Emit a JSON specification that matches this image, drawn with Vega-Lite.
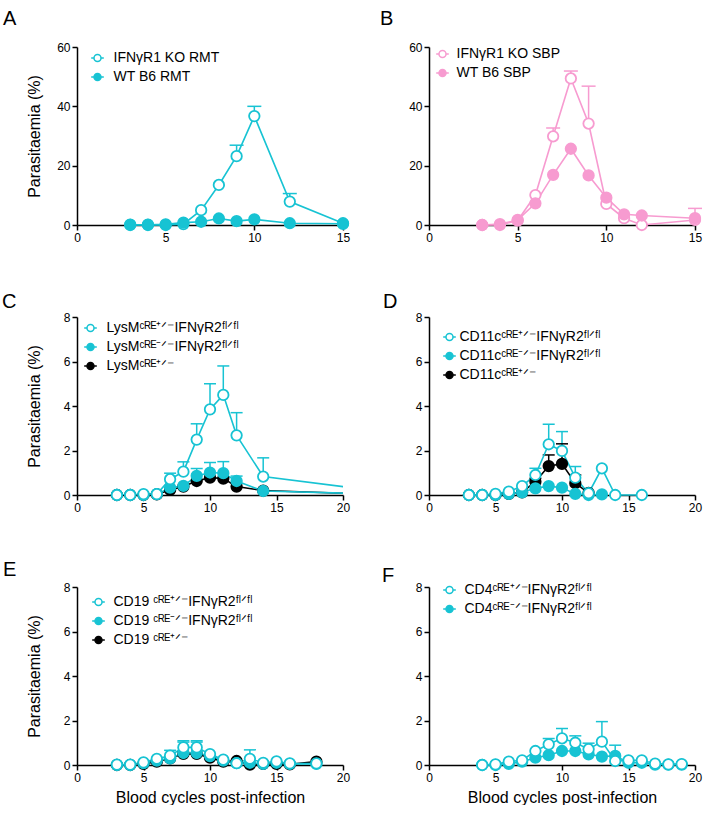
{
 "$schema": "https://vega.github.io/schema/vega-lite/v6.json",
 "padding": {"left": 2, "top": 9, "right": 0, "bottom": 0},
 "background": "white",
 "config": {
  "font": "Liberation Sans",
  "view": {"stroke": null},
  "axis": {"grid": false, "domainColor": "#000", "domainWidth": 1.5, "tickColor": "#000", "tickWidth": 1.5, "tickSize": 5, "labelColor": "#000", "labelFontSize": 12, "labelFont": "Liberation Sans", "labelPadding": 2, "titleFont": "Liberation Sans", "titleFontSize": 16, "titleFontWeight": "normal", "titleColor": "#000", "labelFlush": false, "labelOverlap": false},
  "legend": {"orient": "none", "title": null, "labelFont": "Liberation Sans", "labelFontSize": 14, "labelColor": "#000", "symbolSize": 49, "symbolStrokeWidth": 1.5, "padding": 0, "rowPadding": 5, "labelOffset": 12, "symbolOpacity": 1, "symbolType": "M-1.8,0H-1M1,0H1.8M1,0A1,1,0,1,1,-1,0A1,1,0,1,1,1,0"},
  "title": {"font": "Liberation Sans", "fontSize": 20, "fontWeight": "normal", "anchor": "start", "frame": "group", "color": "#000", "baseline": "alphabetic"}
 },
 "columns": 2,
 "spacing": {"row": 92, "column": 86},
 "bounds": "flush",
 "resolve": {"scale": {"color": "independent", "fill": "independent"}, "legend": {"color": "independent", "fill": "independent"}},
 "concat": [
    {
     "width": 266, "height": 178,
     "title": {"text": "A", "dx": -74, "offset": 12},
     "data": {"values": [
      {"c": 3, "p": 0, "g": "IFNγR1 KO RMT"}, {"c": 4, "p": 0, "g": "IFNγR1 KO RMT"}, {"c": 5, "p": 0, "g": "IFNγR1 KO RMT"}, {"c": 6, "p": 0.3, "g": "IFNγR1 KO RMT"}, {"c": 7, "p": 5.0, "g": "IFNγR1 KO RMT"}, {"c": 8, "p": 13.5, "g": "IFNγR1 KO RMT"}, {"c": 9, "p": 23.2, "hi": 26.9, "g": "IFNγR1 KO RMT"}, {"c": 10, "p": 36.7, "hi": 40.0, "g": "IFNγR1 KO RMT"}, {"c": 12, "p": 7.9, "hi": 10.6, "g": "IFNγR1 KO RMT"}, {"c": 15, "p": 0.6, "g": "IFNγR1 KO RMT"},
      {"c": 3, "p": 0.1, "g": "WT B6 RMT"}, {"c": 4, "p": 0.1, "g": "WT B6 RMT"}, {"c": 5, "p": 0.2, "g": "WT B6 RMT"}, {"c": 6, "p": 0.8, "g": "WT B6 RMT"}, {"c": 7, "p": 1.1, "g": "WT B6 RMT"}, {"c": 8, "p": 2.2, "g": "WT B6 RMT"}, {"c": 9, "p": 1.3, "g": "WT B6 RMT"}, {"c": 10, "p": 1.9, "g": "WT B6 RMT"}, {"c": 12, "p": 0.6, "g": "WT B6 RMT"}, {"c": 15, "p": 0.4, "g": "WT B6 RMT"}
     ]},
     "encoding": {
      "x": {"field": "c", "type": "quantitative", "scale": {"domain": [0, 15], "nice": false}, "axis": {"values": [0, 5, 10, 15], "title": null}},
      "y": {"field": "p", "type": "quantitative", "scale": {"domain": [0, 60], "nice": false}, "axis": {"values": [0, 20, 40, 60], "title": "Parasitaemia (%)", "titlePadding": 14}},
      "color": {"field": "g", "type": "nominal", "scale": {"domain": ["IFNγR1 KO RMT", "WT B6 RMT"], "range": ["#17C3D3", "#17C3D3"]}, "legend": {"legendX": 13.5, "legendY": 4, "labelOffset": 9}}
     },
     "layer": [
      {"transform": [{"filter": "isValid(datum.hi)"}], "mark": {"type": "rule", "strokeWidth": 1.5}, "encoding": {"y2": {"field": "hi"}}},
      {"transform": [{"filter": "isValid(datum.hi)"}], "mark": {"type": "rule", "strokeWidth": 1.5, "xOffset": -7, "x2Offset": 7}, "encoding": {"y": {"field": "hi", "type": "quantitative"}, "x2": {"field": "c"}}},
      {"mark": {"type": "line", "strokeWidth": 1.6}},
      {"mark": {"type": "point", "shape": "circle", "size": 110, "strokeWidth": 1.8, "opacity": 1, "filled": false},
       "encoding": {"fill": {"field": "g", "type": "nominal", "scale": {"domain": ["IFNγR1 KO RMT", "WT B6 RMT"], "range": ["#ffffff", "#17C3D3"]}, "legend": {"legendX": 13.5, "legendY": 4, "labelOffset": 9}}}}
     ]
    },
    {
     "width": 266, "height": 178,
     "title": {"text": "B", "dx": -49, "offset": 12},
     "data": {"values": [
      {"c": 3, "p": 0, "g": "IFNγR1 KO SBP"}, {"c": 4, "p": 0, "g": "IFNγR1 KO SBP"}, {"c": 5, "p": 1.5, "g": "IFNγR1 KO SBP"}, {"c": 6, "p": 10.1, "g": "IFNγR1 KO SBP"}, {"c": 7, "p": 29.9, "hi": 32.7, "g": "IFNγR1 KO SBP"}, {"c": 8, "p": 49.4, "hi": 51.9, "g": "IFNγR1 KO SBP"}, {"c": 9, "p": 34.2, "hi": 46.8, "g": "IFNγR1 KO SBP"}, {"c": 10, "p": 7.1, "g": "IFNγR1 KO SBP"}, {"c": 11, "p": 2.3, "g": "IFNγR1 KO SBP"}, {"c": 12, "p": 0, "g": "IFNγR1 KO SBP"}, {"c": 15, "p": 1.7, "hi": 5.6, "g": "IFNγR1 KO SBP"},
      {"c": 3, "p": 0, "g": "WT B6 SBP"}, {"c": 4, "p": 0.3, "g": "WT B6 SBP"}, {"c": 5, "p": 1.7, "g": "WT B6 SBP"}, {"c": 6, "p": 7.3, "g": "WT B6 SBP"}, {"c": 7, "p": 16.9, "g": "WT B6 SBP"}, {"c": 8, "p": 25.7, "g": "WT B6 SBP"}, {"c": 9, "p": 16.7, "g": "WT B6 SBP"}, {"c": 10, "p": 9.2, "g": "WT B6 SBP"}, {"c": 11, "p": 3.6, "g": "WT B6 SBP"}, {"c": 12, "p": 3.2, "g": "WT B6 SBP"}, {"c": 15, "p": 2.3, "g": "WT B6 SBP"}
     ]},
     "encoding": {
      "x": {"field": "c", "type": "quantitative", "scale": {"domain": [0, 15], "nice": false}, "axis": {"values": [0, 5, 10, 15], "title": null}},
      "y": {"field": "p", "type": "quantitative", "scale": {"domain": [0, 60], "nice": false}, "axis": {"values": [0, 20, 40, 60], "title": null}},
      "color": {"field": "g", "type": "nominal", "scale": {"domain": ["IFNγR1 KO SBP", "WT B6 SBP"], "range": ["#F79BD0", "#F79BD0"]}, "legend": {"legendX": 6.5, "legendY": 0, "labelOffset": 7}}
     },
     "layer": [
      {"transform": [{"filter": "isValid(datum.hi)"}], "mark": {"type": "rule", "strokeWidth": 1.5}, "encoding": {"y2": {"field": "hi"}}},
      {"transform": [{"filter": "isValid(datum.hi)"}], "mark": {"type": "rule", "strokeWidth": 1.5, "xOffset": -7, "x2Offset": 7}, "encoding": {"y": {"field": "hi", "type": "quantitative"}, "x2": {"field": "c"}}},
      {"mark": {"type": "line", "strokeWidth": 1.6}},
      {"mark": {"type": "point", "shape": "circle", "size": 110, "strokeWidth": 1.8, "opacity": 1, "filled": false},
       "encoding": {"fill": {"field": "g", "type": "nominal", "scale": {"domain": ["IFNγR1 KO SBP", "WT B6 SBP"], "range": ["#ffffff", "#F79BD0"]}, "legend": {"legendX": 6.5, "legendY": 0, "labelOffset": 7}}}}
     ]
    },
      {
       "width": 266, "height": 178,
       "title": {"text": "C", "dx": -75, "offset": -1},
       "data": {"values": [
        {"c": 3, "p": 0, "g": "LysMᶜᴿᴱ⁺ᐟ⁻"}, {"c": 4, "p": 0, "g": "LysMᶜᴿᴱ⁺ᐟ⁻"}, {"c": 5, "p": 0, "g": "LysMᶜᴿᴱ⁺ᐟ⁻"}, {"c": 6, "p": 0.03, "g": "LysMᶜᴿᴱ⁺ᐟ⁻"}, {"c": 7, "p": 0.23, "g": "LysMᶜᴿᴱ⁺ᐟ⁻"}, {"c": 8, "p": 0.38, "g": "LysMᶜᴿᴱ⁺ᐟ⁻"}, {"c": 9, "p": 0.63, "g": "LysMᶜᴿᴱ⁺ᐟ⁻"}, {"c": 10, "p": 0.78, "g": "LysMᶜᴿᴱ⁺ᐟ⁻"}, {"c": 11, "p": 0.74, "g": "LysMᶜᴿᴱ⁺ᐟ⁻"}, {"c": 12, "p": 0.38, "g": "LysMᶜᴿᴱ⁺ᐟ⁻"}, {"c": 14, "p": 0.2, "g": "LysMᶜᴿᴱ⁺ᐟ⁻"}, {"c": 21, "p": 0.06, "g": "LysMᶜᴿᴱ⁺ᐟ⁻"},
        {"c": 3, "p": 0, "g": "LysMᶜᴿᴱ⁻ᐟ⁻IFNγR2ᶠˡᐟᶠˡ"}, {"c": 4, "p": 0, "g": "LysMᶜᴿᴱ⁻ᐟ⁻IFNγR2ᶠˡᐟᶠˡ"}, {"c": 5, "p": 0, "g": "LysMᶜᴿᴱ⁻ᐟ⁻IFNγR2ᶠˡᐟᶠˡ"}, {"c": 6, "p": 0.04, "g": "LysMᶜᴿᴱ⁻ᐟ⁻IFNγR2ᶠˡᐟᶠˡ"}, {"c": 7, "p": 0.33, "g": "LysMᶜᴿᴱ⁻ᐟ⁻IFNγR2ᶠˡᐟᶠˡ"}, {"c": 8, "p": 0.41, "g": "LysMᶜᴿᴱ⁻ᐟ⁻IFNγR2ᶠˡᐟᶠˡ"}, {"c": 9, "p": 0.86, "hi": 1.19, "g": "LysMᶜᴿᴱ⁻ᐟ⁻IFNγR2ᶠˡᐟᶠˡ"}, {"c": 10, "p": 1.01, "hi": 1.46, "g": "LysMᶜᴿᴱ⁻ᐟ⁻IFNγR2ᶠˡᐟᶠˡ"}, {"c": 11, "p": 0.98, "hi": 1.5, "g": "LysMᶜᴿᴱ⁻ᐟ⁻IFNγR2ᶠˡᐟᶠˡ"}, {"c": 12, "p": 0.63, "hi": 0.85, "g": "LysMᶜᴿᴱ⁻ᐟ⁻IFNγR2ᶠˡᐟᶠˡ"}, {"c": 14, "p": 0.18, "g": "LysMᶜᴿᴱ⁻ᐟ⁻IFNγR2ᶠˡᐟᶠˡ"}, {"c": 21, "p": 0.07, "g": "LysMᶜᴿᴱ⁻ᐟ⁻IFNγR2ᶠˡᐟᶠˡ"},
        {"c": 3, "p": 0, "g": "LysMᶜᴿᴱ⁺ᐟ⁻IFNγR2ᶠˡᐟᶠˡ"}, {"c": 4, "p": 0, "g": "LysMᶜᴿᴱ⁺ᐟ⁻IFNγR2ᶠˡᐟᶠˡ"}, {"c": 5, "p": 0.04, "g": "LysMᶜᴿᴱ⁺ᐟ⁻IFNγR2ᶠˡᐟᶠˡ"}, {"c": 6, "p": 0.04, "g": "LysMᶜᴿᴱ⁺ᐟ⁻IFNγR2ᶠˡᐟᶠˡ"}, {"c": 7, "p": 0.71, "hi": 0.98, "g": "LysMᶜᴿᴱ⁺ᐟ⁻IFNγR2ᶠˡᐟᶠˡ"}, {"c": 8, "p": 1.05, "hi": 1.49, "g": "LysMᶜᴿᴱ⁺ᐟ⁻IFNγR2ᶠˡᐟᶠˡ"}, {"c": 9, "p": 2.49, "hi": 3.2, "g": "LysMᶜᴿᴱ⁺ᐟ⁻IFNγR2ᶠˡᐟᶠˡ"}, {"c": 10, "p": 3.85, "hi": 5.0, "g": "LysMᶜᴿᴱ⁺ᐟ⁻IFNγR2ᶠˡᐟᶠˡ"}, {"c": 11, "p": 4.5, "hi": 5.8, "g": "LysMᶜᴿᴱ⁺ᐟ⁻IFNγR2ᶠˡᐟᶠˡ"}, {"c": 12, "p": 2.68, "hi": 3.7, "g": "LysMᶜᴿᴱ⁺ᐟ⁻IFNγR2ᶠˡᐟᶠˡ"}, {"c": 14, "p": 0.83, "hi": 1.67, "g": "LysMᶜᴿᴱ⁺ᐟ⁻IFNγR2ᶠˡᐟᶠˡ"}, {"c": 21, "p": 0.3, "g": "LysMᶜᴿᴱ⁺ᐟ⁻IFNγR2ᶠˡᐟᶠˡ"}
       ]},
       "encoding": {
        "x": {"field": "c", "type": "quantitative", "scale": {"domain": [0, 20], "nice": false}, "axis": {"values": [0, 5, 10, 15, 20], "title": null}},
        "y": {"field": "p", "type": "quantitative", "scale": {"domain": [0, 8], "nice": false}, "axis": {"values": [0, 2, 4, 6, 8], "title": "Parasitaemia (%)", "titlePadding": 21}},
        "color": {"field": "g", "type": "nominal", "scale": {"domain": ["LysMᶜᴿᴱ⁺ᐟ⁻IFNγR2ᶠˡᐟᶠˡ", "LysMᶜᴿᴱ⁻ᐟ⁻IFNγR2ᶠˡᐟᶠˡ", "LysMᶜᴿᴱ⁺ᐟ⁻"], "range": ["#17C3D3", "#17C3D3", "#000000"]}, "legend": {"legendX": 6.5, "legendY": 4, "labelOffset": 9}}
       },
       "layer": [
        {"transform": [{"filter": "isValid(datum.hi)"}], "mark": {"type": "rule", "strokeWidth": 1.5}, "encoding": {"y2": {"field": "hi"}}},
        {"transform": [{"filter": "isValid(datum.hi)"}], "mark": {"type": "rule", "strokeWidth": 1.5, "xOffset": -6, "x2Offset": 6}, "encoding": {"y": {"field": "hi", "type": "quantitative"}, "x2": {"field": "c"}}},
        {"mark": {"type": "line", "strokeWidth": 1.6, "clip": true}},
        {"transform": [{"filter": "datum.c <= 20"}], "mark": {"type": "point", "shape": "circle", "size": 110, "strokeWidth": 1.8, "opacity": 1, "filled": false},
         "encoding": {"fill": {"field": "g", "type": "nominal", "scale": {"domain": ["LysMᶜᴿᴱ⁺ᐟ⁻IFNγR2ᶠˡᐟᶠˡ", "LysMᶜᴿᴱ⁻ᐟ⁻IFNγR2ᶠˡᐟᶠˡ", "LysMᶜᴿᴱ⁺ᐟ⁻"], "range": ["#ffffff", "#17C3D3", "#000000"]}, "legend": {"legendX": 6.5, "legendY": 4, "labelOffset": 9}}}}
       ]
      },
      {
       "width": 266, "height": 178,
       "title": {"text": "D", "dx": -46, "offset": -1},
       "data": {"values": [
        {"c": 3, "p": 0, "g": "CD11cᶜᴿᴱ⁺ᐟ⁻"}, {"c": 4, "p": 0, "g": "CD11cᶜᴿᴱ⁺ᐟ⁻"}, {"c": 5, "p": 0, "g": "CD11cᶜᴿᴱ⁺ᐟ⁻"}, {"c": 6, "p": 0.05, "g": "CD11cᶜᴿᴱ⁺ᐟ⁻"}, {"c": 7, "p": 0.12, "g": "CD11cᶜᴿᴱ⁺ᐟ⁻"}, {"c": 8, "p": 0.6, "hi": 0.75, "g": "CD11cᶜᴿᴱ⁺ᐟ⁻"}, {"c": 9, "p": 1.3, "hi": 1.8, "g": "CD11cᶜᴿᴱ⁺ᐟ⁻"}, {"c": 10, "p": 1.4, "hi": 2.3, "g": "CD11cᶜᴿᴱ⁺ᐟ⁻"}, {"c": 11, "p": 0.53, "hi": 0.9, "g": "CD11cᶜᴿᴱ⁺ᐟ⁻"}, {"c": 12, "p": 0.1, "g": "CD11cᶜᴿᴱ⁺ᐟ⁻"},
        {"c": 3, "p": 0, "g": "CD11cᶜᴿᴱ⁻ᐟ⁻IFNγR2ᶠˡᐟᶠˡ"}, {"c": 4, "p": 0, "g": "CD11cᶜᴿᴱ⁻ᐟ⁻IFNγR2ᶠˡᐟᶠˡ"}, {"c": 5, "p": 0, "g": "CD11cᶜᴿᴱ⁻ᐟ⁻IFNγR2ᶠˡᐟᶠˡ"}, {"c": 6, "p": 0.05, "g": "CD11cᶜᴿᴱ⁻ᐟ⁻IFNγR2ᶠˡᐟᶠˡ"}, {"c": 7, "p": 0.12, "g": "CD11cᶜᴿᴱ⁻ᐟ⁻IFNγR2ᶠˡᐟᶠˡ"}, {"c": 8, "p": 0.3, "g": "CD11cᶜᴿᴱ⁻ᐟ⁻IFNγR2ᶠˡᐟᶠˡ"}, {"c": 9, "p": 0.4, "g": "CD11cᶜᴿᴱ⁻ᐟ⁻IFNγR2ᶠˡᐟᶠˡ"}, {"c": 10, "p": 0.33, "g": "CD11cᶜᴿᴱ⁻ᐟ⁻IFNγR2ᶠˡᐟᶠˡ"}, {"c": 11, "p": 0.05, "g": "CD11cᶜᴿᴱ⁻ᐟ⁻IFNγR2ᶠˡᐟᶠˡ"}, {"c": 12, "p": 0, "g": "CD11cᶜᴿᴱ⁻ᐟ⁻IFNγR2ᶠˡᐟᶠˡ"}, {"c": 13, "p": 0.03, "g": "CD11cᶜᴿᴱ⁻ᐟ⁻IFNγR2ᶠˡᐟᶠˡ"},
        {"c": 3, "p": 0, "g": "CD11cᶜᴿᴱ⁺ᐟ⁻IFNγR2ᶠˡᐟᶠˡ"}, {"c": 4, "p": 0, "g": "CD11cᶜᴿᴱ⁺ᐟ⁻IFNγR2ᶠˡᐟᶠˡ"}, {"c": 5, "p": 0.05, "g": "CD11cᶜᴿᴱ⁺ᐟ⁻IFNγR2ᶠˡᐟᶠˡ"}, {"c": 6, "p": 0.15, "g": "CD11cᶜᴿᴱ⁺ᐟ⁻IFNγR2ᶠˡᐟᶠˡ"}, {"c": 7, "p": 0.4, "g": "CD11cᶜᴿᴱ⁺ᐟ⁻IFNγR2ᶠˡᐟᶠˡ"}, {"c": 8, "p": 0.9, "hi": 1.2, "g": "CD11cᶜᴿᴱ⁺ᐟ⁻IFNγR2ᶠˡᐟᶠˡ"}, {"c": 9, "p": 2.28, "hi": 3.18, "g": "CD11cᶜᴿᴱ⁺ᐟ⁻IFNγR2ᶠˡᐟᶠˡ"}, {"c": 10, "p": 1.98, "hi": 2.85, "g": "CD11cᶜᴿᴱ⁺ᐟ⁻IFNγR2ᶠˡᐟᶠˡ"}, {"c": 11, "p": 0.78, "hi": 1.28, "g": "CD11cᶜᴿᴱ⁺ᐟ⁻IFNγR2ᶠˡᐟᶠˡ"}, {"c": 12, "p": 0.08, "g": "CD11cᶜᴿᴱ⁺ᐟ⁻IFNγR2ᶠˡᐟᶠˡ"}, {"c": 13, "p": 1.2, "g": "CD11cᶜᴿᴱ⁺ᐟ⁻IFNγR2ᶠˡᐟᶠˡ"}, {"c": 14, "p": 0, "g": "CD11cᶜᴿᴱ⁺ᐟ⁻IFNγR2ᶠˡᐟᶠˡ"}, {"c": 16, "p": 0, "g": "CD11cᶜᴿᴱ⁺ᐟ⁻IFNγR2ᶠˡᐟᶠˡ"}
       ]},
       "encoding": {
        "x": {"field": "c", "type": "quantitative", "scale": {"domain": [0, 20], "nice": false}, "axis": {"values": [0, 5, 10, 15, 20], "title": null}},
        "y": {"field": "p", "type": "quantitative", "scale": {"domain": [0, 8], "nice": false}, "axis": {"values": [0, 2, 4, 6, 8], "title": null}},
        "color": {"field": "g", "type": "nominal", "scale": {"domain": ["CD11cᶜᴿᴱ⁺ᐟ⁻IFNγR2ᶠˡᐟᶠˡ", "CD11cᶜᴿᴱ⁻ᐟ⁻IFNγR2ᶠˡᐟᶠˡ", "CD11cᶜᴿᴱ⁺ᐟ⁻"], "range": ["#17C3D3", "#17C3D3", "#000000"]}, "legend": {"legendX": 13.5, "legendY": 13, "labelOffset": 3}}
       },
       "layer": [
        {"transform": [{"filter": "isValid(datum.hi)"}], "mark": {"type": "rule", "strokeWidth": 1.5}, "encoding": {"y2": {"field": "hi"}}},
        {"transform": [{"filter": "isValid(datum.hi)"}], "mark": {"type": "rule", "strokeWidth": 1.5, "xOffset": -6, "x2Offset": 6}, "encoding": {"y": {"field": "hi", "type": "quantitative"}, "x2": {"field": "c"}}},
        {"mark": {"type": "line", "strokeWidth": 1.6}},
        {"mark": {"type": "point", "shape": "circle", "size": 110, "strokeWidth": 1.8, "opacity": 1, "filled": false},
         "encoding": {"fill": {"field": "g", "type": "nominal", "scale": {"domain": ["CD11cᶜᴿᴱ⁺ᐟ⁻IFNγR2ᶠˡᐟᶠˡ", "CD11cᶜᴿᴱ⁻ᐟ⁻IFNγR2ᶠˡᐟᶠˡ", "CD11cᶜᴿᴱ⁺ᐟ⁻"], "range": ["#ffffff", "#17C3D3", "#000000"]}, "legend": {"legendX": 13.5, "legendY": 13, "labelOffset": 3}}}}
       ]
      },
      {
       "width": 266, "height": 178,
       "title": {"text": "E", "dx": -74, "offset": 1},
       "data": {"values": [
        {"c": 3, "p": 0, "g": "CD19 ᶜᴿᴱ⁺ᐟ⁻"}, {"c": 4, "p": 0, "g": "CD19 ᶜᴿᴱ⁺ᐟ⁻"}, {"c": 5, "p": 0.05, "g": "CD19 ᶜᴿᴱ⁺ᐟ⁻"}, {"c": 6, "p": 0.15, "g": "CD19 ᶜᴿᴱ⁺ᐟ⁻"}, {"c": 7, "p": 0.3, "g": "CD19 ᶜᴿᴱ⁺ᐟ⁻"}, {"c": 8, "p": 0.5, "g": "CD19 ᶜᴿᴱ⁺ᐟ⁻"}, {"c": 9, "p": 0.5, "g": "CD19 ᶜᴿᴱ⁺ᐟ⁻"}, {"c": 10, "p": 0.33, "g": "CD19 ᶜᴿᴱ⁺ᐟ⁻"}, {"c": 11, "p": 0.15, "g": "CD19 ᶜᴿᴱ⁺ᐟ⁻"}, {"c": 12, "p": 0.18, "g": "CD19 ᶜᴿᴱ⁺ᐟ⁻"}, {"c": 13, "p": 0.02, "g": "CD19 ᶜᴿᴱ⁺ᐟ⁻"}, {"c": 14, "p": 0.05, "g": "CD19 ᶜᴿᴱ⁺ᐟ⁻"}, {"c": 15, "p": 0.05, "g": "CD19 ᶜᴿᴱ⁺ᐟ⁻"}, {"c": 16, "p": 0.03, "g": "CD19 ᶜᴿᴱ⁺ᐟ⁻"}, {"c": 18, "p": 0.15, "g": "CD19 ᶜᴿᴱ⁺ᐟ⁻"},
        {"c": 3, "p": 0, "g": "CD19 ᶜᴿᴱ⁻ᐟ⁻IFNγR2ᶠˡᐟᶠˡ"}, {"c": 4, "p": 0, "g": "CD19 ᶜᴿᴱ⁻ᐟ⁻IFNγR2ᶠˡᐟᶠˡ"}, {"c": 5, "p": 0.08, "g": "CD19 ᶜᴿᴱ⁻ᐟ⁻IFNγR2ᶠˡᐟᶠˡ"}, {"c": 6, "p": 0.2, "g": "CD19 ᶜᴿᴱ⁻ᐟ⁻IFNγR2ᶠˡᐟᶠˡ"}, {"c": 7, "p": 0.3, "g": "CD19 ᶜᴿᴱ⁻ᐟ⁻IFNγR2ᶠˡᐟᶠˡ"}, {"c": 8, "p": 0.54, "hi": 1.03, "g": "CD19 ᶜᴿᴱ⁻ᐟ⁻IFNγR2ᶠˡᐟᶠˡ"}, {"c": 9, "p": 0.54, "hi": 1.03, "g": "CD19 ᶜᴿᴱ⁻ᐟ⁻IFNγR2ᶠˡᐟᶠˡ"}, {"c": 10, "p": 0.4, "g": "CD19 ᶜᴿᴱ⁻ᐟ⁻IFNγR2ᶠˡᐟᶠˡ"}, {"c": 11, "p": 0.2, "g": "CD19 ᶜᴿᴱ⁻ᐟ⁻IFNγR2ᶠˡᐟᶠˡ"}, {"c": 12, "p": 0.08, "g": "CD19 ᶜᴿᴱ⁻ᐟ⁻IFNγR2ᶠˡᐟᶠˡ"}, {"c": 13, "p": 0.1, "g": "CD19 ᶜᴿᴱ⁻ᐟ⁻IFNγR2ᶠˡᐟᶠˡ"}, {"c": 14, "p": 0.05, "g": "CD19 ᶜᴿᴱ⁻ᐟ⁻IFNγR2ᶠˡᐟᶠˡ"}, {"c": 15, "p": 0.1, "g": "CD19 ᶜᴿᴱ⁻ᐟ⁻IFNγR2ᶠˡᐟᶠˡ"}, {"c": 16, "p": 0.05, "g": "CD19 ᶜᴿᴱ⁻ᐟ⁻IFNγR2ᶠˡᐟᶠˡ"}, {"c": 18, "p": 0.05, "g": "CD19 ᶜᴿᴱ⁻ᐟ⁻IFNγR2ᶠˡᐟᶠˡ"},
        {"c": 3, "p": 0.02, "g": "CD19 ᶜᴿᴱ⁺ᐟ⁻IFNγR2ᶠˡᐟᶠˡ"}, {"c": 4, "p": 0.02, "g": "CD19 ᶜᴿᴱ⁺ᐟ⁻IFNγR2ᶠˡᐟᶠˡ"}, {"c": 5, "p": 0.12, "g": "CD19 ᶜᴿᴱ⁺ᐟ⁻IFNγR2ᶠˡᐟᶠˡ"}, {"c": 6, "p": 0.28, "g": "CD19 ᶜᴿᴱ⁺ᐟ⁻IFNγR2ᶠˡᐟᶠˡ"}, {"c": 7, "p": 0.42, "hi": 0.66, "g": "CD19 ᶜᴿᴱ⁺ᐟ⁻IFNγR2ᶠˡᐟᶠˡ"}, {"c": 8, "p": 0.79, "hi": 1.09, "g": "CD19 ᶜᴿᴱ⁺ᐟ⁻IFNγR2ᶠˡᐟᶠˡ"}, {"c": 9, "p": 0.79, "hi": 1.09, "g": "CD19 ᶜᴿᴱ⁺ᐟ⁻IFNγR2ᶠˡᐟᶠˡ"}, {"c": 10, "p": 0.49, "g": "CD19 ᶜᴿᴱ⁺ᐟ⁻IFNγR2ᶠˡᐟᶠˡ"}, {"c": 11, "p": 0.24, "g": "CD19 ᶜᴿᴱ⁺ᐟ⁻IFNγR2ᶠˡᐟᶠˡ"}, {"c": 12, "p": 0.08, "g": "CD19 ᶜᴿᴱ⁺ᐟ⁻IFNγR2ᶠˡᐟᶠˡ"}, {"c": 13, "p": 0.28, "hi": 0.68, "g": "CD19 ᶜᴿᴱ⁺ᐟ⁻IFNγR2ᶠˡᐟᶠˡ"}, {"c": 14, "p": 0.1, "g": "CD19 ᶜᴿᴱ⁺ᐟ⁻IFNγR2ᶠˡᐟᶠˡ"}, {"c": 15, "p": 0.16, "g": "CD19 ᶜᴿᴱ⁺ᐟ⁻IFNγR2ᶠˡᐟᶠˡ"}, {"c": 16, "p": 0.07, "g": "CD19 ᶜᴿᴱ⁺ᐟ⁻IFNγR2ᶠˡᐟᶠˡ"}, {"c": 18, "p": 0.07, "g": "CD19 ᶜᴿᴱ⁺ᐟ⁻IFNγR2ᶠˡᐟᶠˡ"}
       ]},
       "encoding": {
        "x": {"field": "c", "type": "quantitative", "scale": {"domain": [0, 20], "nice": false}, "axis": {"values": [0, 5, 10, 15, 20], "title": "Blood cycles post-infection", "titlePadding": 6}},
        "y": {"field": "p", "type": "quantitative", "scale": {"domain": [0, 8], "nice": false}, "axis": {"values": [0, 2, 4, 6, 8], "title": "Parasitaemia (%)", "titlePadding": 21}},
        "color": {"field": "g", "type": "nominal", "scale": {"domain": ["CD19 ᶜᴿᴱ⁺ᐟ⁻IFNγR2ᶠˡᐟᶠˡ", "CD19 ᶜᴿᴱ⁻ᐟ⁻IFNγR2ᶠˡᐟᶠˡ", "CD19 ᶜᴿᴱ⁺ᐟ⁻"], "range": ["#17C3D3", "#17C3D3", "#000000"]}, "legend": {"legendX": 14.5, "legendY": 8, "labelOffset": 8}}
       },
       "layer": [
        {"transform": [{"filter": "isValid(datum.hi)"}], "mark": {"type": "rule", "strokeWidth": 1.5}, "encoding": {"y2": {"field": "hi"}}},
        {"transform": [{"filter": "isValid(datum.hi)"}], "mark": {"type": "rule", "strokeWidth": 1.5, "xOffset": -6, "x2Offset": 6}, "encoding": {"y": {"field": "hi", "type": "quantitative"}, "x2": {"field": "c"}}},
        {"mark": {"type": "line", "strokeWidth": 1.6}},
        {"mark": {"type": "point", "shape": "circle", "size": 110, "strokeWidth": 1.8, "opacity": 1, "filled": false},
         "encoding": {"fill": {"field": "g", "type": "nominal", "scale": {"domain": ["CD19 ᶜᴿᴱ⁺ᐟ⁻IFNγR2ᶠˡᐟᶠˡ", "CD19 ᶜᴿᴱ⁻ᐟ⁻IFNγR2ᶠˡᐟᶠˡ", "CD19 ᶜᴿᴱ⁺ᐟ⁻"], "range": ["#ffffff", "#17C3D3", "#000000"]}, "legend": {"legendX": 14.5, "legendY": 8, "labelOffset": 8}}}}
       ]
      },
      {
       "width": 266, "height": 178,
       "title": {"text": "F", "dx": -47, "offset": -5},
       "data": {"values": [
        {"c": 4, "p": 0, "g": "CD4ᶜᴿᴱ⁻ᐟ⁻IFNγR2ᶠˡᐟᶠˡ"}, {"c": 5, "p": 0, "g": "CD4ᶜᴿᴱ⁻ᐟ⁻IFNγR2ᶠˡᐟᶠˡ"}, {"c": 6, "p": 0.05, "g": "CD4ᶜᴿᴱ⁻ᐟ⁻IFNγR2ᶠˡᐟᶠˡ"}, {"c": 7, "p": 0.15, "g": "CD4ᶜᴿᴱ⁻ᐟ⁻IFNγR2ᶠˡᐟᶠˡ"}, {"c": 8, "p": 0.33, "g": "CD4ᶜᴿᴱ⁻ᐟ⁻IFNγR2ᶠˡᐟᶠˡ"}, {"c": 9, "p": 0.44, "g": "CD4ᶜᴿᴱ⁻ᐟ⁻IFNγR2ᶠˡᐟᶠˡ"}, {"c": 10, "p": 0.63, "g": "CD4ᶜᴿᴱ⁻ᐟ⁻IFNγR2ᶠˡᐟᶠˡ"}, {"c": 11, "p": 0.63, "g": "CD4ᶜᴿᴱ⁻ᐟ⁻IFNγR2ᶠˡᐟᶠˡ"}, {"c": 12, "p": 0.48, "g": "CD4ᶜᴿᴱ⁻ᐟ⁻IFNγR2ᶠˡᐟᶠˡ"}, {"c": 13, "p": 0.38, "g": "CD4ᶜᴿᴱ⁻ᐟ⁻IFNγR2ᶠˡᐟᶠˡ"}, {"c": 14, "p": 0.41, "hi": 0.89, "g": "CD4ᶜᴿᴱ⁻ᐟ⁻IFNγR2ᶠˡᐟᶠˡ"}, {"c": 15, "p": 0.1, "g": "CD4ᶜᴿᴱ⁻ᐟ⁻IFNγR2ᶠˡᐟᶠˡ"}, {"c": 16, "p": 0.1, "g": "CD4ᶜᴿᴱ⁻ᐟ⁻IFNγR2ᶠˡᐟᶠˡ"}, {"c": 17, "p": 0.02, "g": "CD4ᶜᴿᴱ⁻ᐟ⁻IFNγR2ᶠˡᐟᶠˡ"}, {"c": 18, "p": 0.02, "g": "CD4ᶜᴿᴱ⁻ᐟ⁻IFNγR2ᶠˡᐟᶠˡ"}, {"c": 19, "p": 0.02, "g": "CD4ᶜᴿᴱ⁻ᐟ⁻IFNγR2ᶠˡᐟᶠˡ"},
        {"c": 4, "p": 0, "g": "CD4ᶜᴿᴱ⁺ᐟ⁻IFNγR2ᶠˡᐟᶠˡ"}, {"c": 5, "p": 0.03, "g": "CD4ᶜᴿᴱ⁺ᐟ⁻IFNγR2ᶠˡᐟᶠˡ"}, {"c": 6, "p": 0.15, "g": "CD4ᶜᴿᴱ⁺ᐟ⁻IFNγR2ᶠˡᐟᶠˡ"}, {"c": 7, "p": 0.21, "g": "CD4ᶜᴿᴱ⁺ᐟ⁻IFNγR2ᶠˡᐟᶠˡ"}, {"c": 8, "p": 0.63, "g": "CD4ᶜᴿᴱ⁺ᐟ⁻IFNγR2ᶠˡᐟᶠˡ"}, {"c": 9, "p": 0.93, "hi": 1.19, "g": "CD4ᶜᴿᴱ⁺ᐟ⁻IFNγR2ᶠˡᐟᶠˡ"}, {"c": 10, "p": 1.2, "hi": 1.64, "g": "CD4ᶜᴿᴱ⁺ᐟ⁻IFNγR2ᶠˡᐟᶠˡ"}, {"c": 11, "p": 1.0, "hi": 1.31, "g": "CD4ᶜᴿᴱ⁺ᐟ⁻IFNγR2ᶠˡᐟᶠˡ"}, {"c": 12, "p": 0.71, "hi": 0.98, "g": "CD4ᶜᴿᴱ⁺ᐟ⁻IFNγR2ᶠˡᐟᶠˡ"}, {"c": 13, "p": 1.05, "hi": 1.95, "g": "CD4ᶜᴿᴱ⁺ᐟ⁻IFNγR2ᶠˡᐟᶠˡ"}, {"c": 14, "p": 0.18, "g": "CD4ᶜᴿᴱ⁺ᐟ⁻IFNγR2ᶠˡᐟᶠˡ"}, {"c": 15, "p": 0.21, "g": "CD4ᶜᴿᴱ⁺ᐟ⁻IFNγR2ᶠˡᐟᶠˡ"}, {"c": 16, "p": 0.21, "g": "CD4ᶜᴿᴱ⁺ᐟ⁻IFNγR2ᶠˡᐟᶠˡ"}, {"c": 17, "p": 0.06, "g": "CD4ᶜᴿᴱ⁺ᐟ⁻IFNγR2ᶠˡᐟᶠˡ"}, {"c": 18, "p": 0.03, "g": "CD4ᶜᴿᴱ⁺ᐟ⁻IFNγR2ᶠˡᐟᶠˡ"}, {"c": 19, "p": 0.04, "g": "CD4ᶜᴿᴱ⁺ᐟ⁻IFNγR2ᶠˡᐟᶠˡ"}
       ]},
       "encoding": {
        "x": {"field": "c", "type": "quantitative", "scale": {"domain": [0, 20], "nice": false}, "axis": {"values": [0, 5, 10, 15, 20], "title": "Blood cycles post-infection", "titlePadding": 6}},
        "y": {"field": "p", "type": "quantitative", "scale": {"domain": [0, 8], "nice": false}, "axis": {"values": [0, 2, 4, 6, 8], "title": null}},
        "color": {"field": "g", "type": "nominal", "scale": {"domain": ["CD4ᶜᴿᴱ⁺ᐟ⁻IFNγR2ᶠˡᐟᶠˡ", "CD4ᶜᴿᴱ⁻ᐟ⁻IFNγR2ᶠˡᐟᶠˡ"], "range": ["#17C3D3", "#17C3D3"]}, "legend": {"legendX": 13.5, "legendY": -4, "labelOffset": 8}}
       },
       "layer": [
        {"transform": [{"filter": "isValid(datum.hi)"}], "mark": {"type": "rule", "strokeWidth": 1.5}, "encoding": {"y2": {"field": "hi"}}},
        {"transform": [{"filter": "isValid(datum.hi)"}], "mark": {"type": "rule", "strokeWidth": 1.5, "xOffset": -6, "x2Offset": 6}, "encoding": {"y": {"field": "hi", "type": "quantitative"}, "x2": {"field": "c"}}},
        {"mark": {"type": "line", "strokeWidth": 1.6}},
        {"mark": {"type": "point", "shape": "circle", "size": 110, "strokeWidth": 1.8, "opacity": 1, "filled": false},
         "encoding": {"fill": {"field": "g", "type": "nominal", "scale": {"domain": ["CD4ᶜᴿᴱ⁺ᐟ⁻IFNγR2ᶠˡᐟᶠˡ", "CD4ᶜᴿᴱ⁻ᐟ⁻IFNγR2ᶠˡᐟᶠˡ"], "range": ["#ffffff", "#17C3D3"]}, "legend": {"legendX": 13.5, "legendY": -4, "labelOffset": 8}}}}
       ]
      }
 ]
}
